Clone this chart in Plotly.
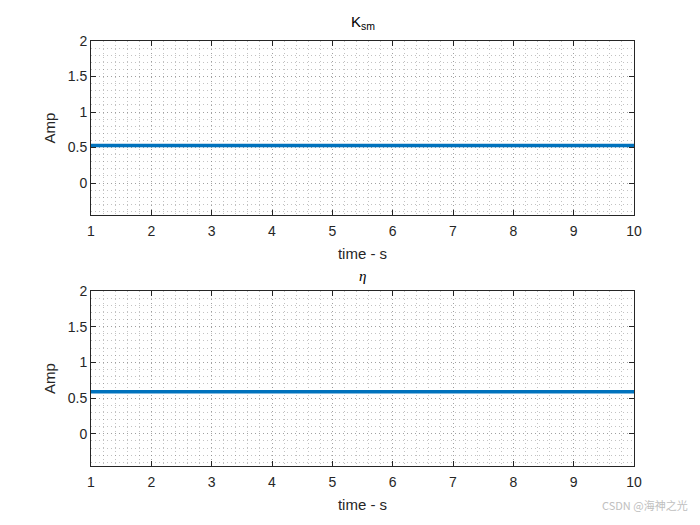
import plotly.graph_objects as go
from plotly.subplots import make_subplots

time_s = [1, 2, 3, 4, 5, 6, 7, 8, 9, 10]
ksm_vals = [0.53, 0.53, 0.53, 0.53, 0.53, 0.53, 0.53, 0.53, 0.53, 0.53]
eta_vals = [0.59, 0.59, 0.59, 0.59, 0.59, 0.59, 0.59, 0.59, 0.59, 0.59]
x_ticks = [1, 2, 3, 4, 5, 6, 7, 8, 9, 10]
y_ticks = [0, 0.5, 1, 1.5, 2]
y_tick_text = ["0", "0.5", "1", "1.5", "2"]

fig = make_subplots(rows=2, cols=1, vertical_spacing=0.0)
fig.add_trace(go.Scatter(x=time_s, y=ksm_vals, mode="lines",
                         line=dict(color="#0072BD", width=3.5), showlegend=False), row=1, col=1)
fig.add_trace(go.Scatter(x=time_s, y=eta_vals, mode="lines",
                         line=dict(color="#0072BD", width=3.5), showlegend=False), row=2, col=1)

axis_color = "#262626"
tick_font = dict(family="Liberation Sans, Arial, sans-serif", size=14, color=axis_color)
title_font = dict(family="Liberation Sans, Arial, sans-serif", size=15, color=axis_color)
grid_col = "rgba(120,120,120,0.45)"
gdash = "1px,3px"

common_x = dict(range=[1, 10], tickvals=x_ticks, ticks="inside", ticklen=5, tickcolor=axis_color,
                showline=True, linecolor=axis_color, linewidth=1, mirror="ticks",
                showgrid=True, gridcolor=grid_col, griddash=gdash, gridwidth=1,
                minor=dict(dtick=0.2, tick0=1, showgrid=True, gridcolor=grid_col, griddash=gdash, gridwidth=1, ticks=""),
                zeroline=False, tickfont=tick_font, automargin=False, ticklabelstandoff=3,
                title=dict(text="time - s", font=title_font, standoff=10))
common_y = dict(range=[-0.45, 2], tickvals=y_ticks, ticktext=y_tick_text, ticks="inside", ticklen=5,
                tickcolor=axis_color, showline=True, linecolor=axis_color, linewidth=1, mirror="ticks",
                showgrid=True, gridcolor=grid_col, griddash=gdash, gridwidth=1,
                minor=dict(dtick=0.1, tick0=0, showgrid=True, gridcolor=grid_col, griddash=gdash, gridwidth=1, ticks=""),
                zeroline=False, tickfont=tick_font, automargin=False,
                title=dict(text="Amp", font=title_font, standoff=8))

fig.update_xaxes(**common_x)
fig.update_yaxes(**common_y)
fig.update_layout(
    xaxis=dict(domain=[0, 1], anchor="y"),
    xaxis2=dict(domain=[0, 1], anchor="y2"),
    yaxis=dict(domain=[0.5906, 1.0]),
    yaxis2=dict(domain=[0.0, 0.4118]),
)

fig.add_annotation(text="K<sub>sm</sub>", xref="paper", yref="paper", x=0.5, y=1.0,
                   yshift=7, xanchor="center", yanchor="bottom", showarrow=False,
                   font=dict(family="Liberation Sans, Arial, sans-serif", size=15, color="black"))
fig.add_annotation(text="<i>η</i>", xref="paper", yref="paper", x=0.5, y=0.4118,
                   yshift=5, xanchor="center", yanchor="bottom", showarrow=False,
                   font=dict(family="Liberation Serif, Times New Roman, serif", size=15, color="black"))
fig.add_annotation(text="CSDN @海神之光", xref="paper", yref="paper", x=1.0, y=-0.115,
                   xshift=56, xanchor="right", yanchor="bottom", showarrow=False,
                   font=dict(family="Noto Sans CJK SC, sans-serif", size=11, color="#c0c0c0"))

fig.update_layout(width=700, height=525, margin=dict(l=91, r=66, t=41, b=59, autoexpand=False),
                  plot_bgcolor="white", paper_bgcolor="white", font=tick_font)

fig.write_html("out.html", config={"displayModeBar": False},
               post_script="document.body.style.margin='0';document.body.style.padding='0';")
